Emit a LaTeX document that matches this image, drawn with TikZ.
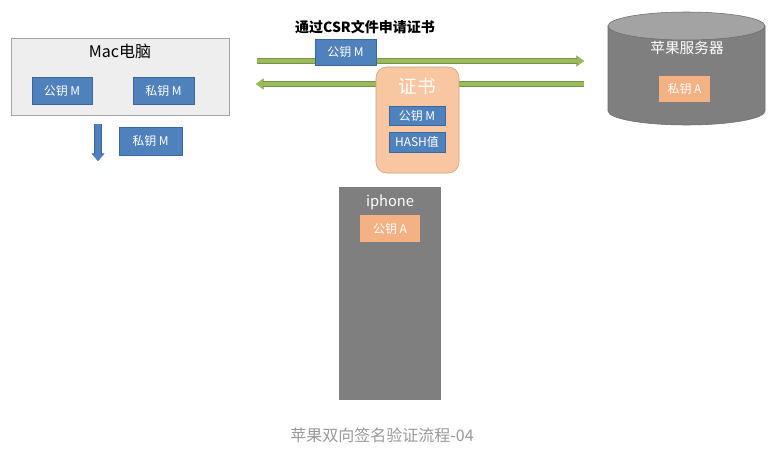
\documentclass[tikz,border=0pt]{standalone}
\usepackage{fontspec}
\setmainfont{Noto Sans CJK SC}
\usetikzlibrary{arrows.meta}
\definecolor{KeyBlue}{HTML}{4F81BD}
\definecolor{KeyEdge}{HTML}{3B67A0}
\definecolor{Leaf}{HTML}{9BBB59}
\definecolor{LeafEdge}{HTML}{76934A}
\definecolor{Peach}{HTML}{F8C6A0}
\definecolor{PeachEdge}{HTML}{C9A080}
\definecolor{Apricot}{HTML}{F4B183}
\definecolor{Slate}{HTML}{7F7F7F}
\definecolor{SlateTop}{HTML}{A3A3A3}
\definecolor{Paper}{HTML}{EEEEEE}
\definecolor{Caption}{HTML}{999999}

\begin{document}
\begin{tikzpicture}[x=0.75pt,y=-0.75pt,
    key/.style={fill=KeyBlue,draw=KeyEdge,inner sep=0pt,text=white,font=\fontsize{9}{10}\selectfont},
    akey/.style={fill=Apricot,inner sep=0pt,text=white,font=\fontsize{9}{10}\selectfont},
    title/.style={text=white,font=\fontsize{11}{13}\selectfont},
    garr/.style={line width=3.4pt,draw=Leaf,-{Triangle[length=5pt,width=7pt]},
      preaction={draw=LeafEdge,line width=4.3pt,-{Triangle[length=5.8pt,width=8pt]}}},
    barr/.style={line width=4.5pt,draw=KeyBlue,-{Triangle[length=5pt,width=8.5pt]},
      preaction={draw=KeyEdge,line width=5.3pt,-{Triangle[length=5.8pt,width=9.5pt]}}}
  ]
    \useasboundingbox[fill=white] (0,0) rectangle (781,461);

    % Mac side
    \node[fill=Paper,draw=SlateTop,minimum width=163.5pt,minimum height=57.75pt] (mac) at (120,76.5) {};
    \node[font=\fontsize{12}{14}\selectfont] (mactitle) at (120,51) {Mac电脑};
    \node[key,minimum width=45pt,minimum height=20.25pt] (pubm) at (62,90.5) {公钥 M};
    \node[key,minimum width=45.75pt,minimum height=20.25pt] (privm) at (163.5,90.5) {私钥 M};
    \coordinate (dtop) at (98,124);
    \coordinate (dbot) at (98,161);
    \draw[barr] (dtop) -- (dbot);
    \node[key,minimum width=47.25pt,minimum height=21pt] (privmout) at (150.5,141) {私钥 M};

    % request and reply
    \coordinate (reqL) at (257,61);
    \coordinate (reqR) at (584,61);
    \coordinate (repL) at (256,84);
    \coordinate (repR) at (584,84);
    \draw[garr] (reqL) -- (reqR);
    \draw[garr] (repR) -- (repL);
    \node[font=\bfseries\fontsize{10.5}{12}\selectfont] (csr) at (365,27) {通过CSR文件申请证书};
    \node[key,minimum width=45.75pt,minimum height=19.5pt] (csrkey) at (345.5,52) {公钥 M};

    % certificate
    \node[fill=Peach,draw=PeachEdge,rounded corners=8pt,minimum width=62.25pt,minimum height=79.5pt] (cert) at (417.5,120) {};
    \node[text=white,font=\fontsize{14}{16}\selectfont] (certtitle) at (417.5,86) {证书};
    \node[key,minimum width=42pt,minimum height=14.25pt] (certpub) at (417,115.5) {公钥 M};
    \node[key,minimum width=42pt,minimum height=15pt] (certhash) at (417,142) {HASH值};

    % Apple server
    \filldraw[fill=Slate,draw=Slate!85!black] (608,26) -- (608,111)
      arc[start angle=180,end angle=360,x radius=58.9pt,y radius=10.5pt] -- (765,26) -- cycle;
    \filldraw[fill=SlateTop,draw=Slate!85!black] (686.5,26) ellipse[x radius=58.9pt,y radius=10.5pt];
    \node[title] (server) at (687,48) {苹果服务器};
    \node[akey,minimum width=38.25pt,minimum height=19.5pt] (priva) at (684.5,89) {私钥 A};

    % iphone
    \node[fill=Slate,inner sep=0pt,minimum width=76.5pt,minimum height=159.75pt] (phone) at (390,293.5) {};
    \node[title] (phonetitle) at (390,202) {iphone};
    \node[akey,minimum width=45pt,minimum height=20.25pt] (puba) at (390,228.5) {公钥 A};

    \node[text=Caption,font=\fontsize{12}{14}\selectfont] (cap) at (382,435) {苹果双向签名验证流程-04};
  \end{tikzpicture}
\end{document}
